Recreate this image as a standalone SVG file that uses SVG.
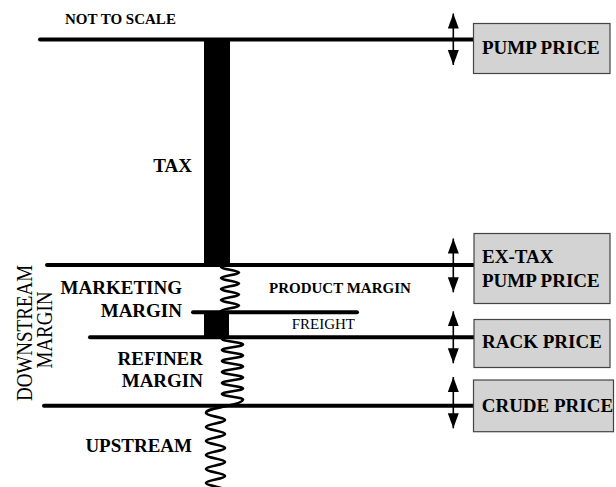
<svg xmlns="http://www.w3.org/2000/svg" width="616" height="487" viewBox="0 0 616 487">
<style>
text{font-family:"Liberation Serif","Times New Roman",serif;fill:#000}
.b{font-weight:bold;font-size:19px}
.r{font-weight:normal;font-size:19px}
.s{font-size:15px}
.box{fill:#d3d3d3;stroke:#444;stroke-width:1.2}
.lvl{stroke:#000;stroke-width:4;stroke-linecap:round;fill:none}
.arr{stroke:#000;stroke-width:1.6;marker-start:url(#ah);marker-end:url(#ah)}
.spr{stroke:#000;stroke-width:2.7;fill:none}
</style>
<defs>
<marker id="ah" markerUnits="userSpaceOnUse" markerWidth="16" markerHeight="12" refX="15" refY="5.5" orient="auto-start-reverse">
<path d="M0,0 L15,5.5 L0,11 z" fill="#000"/>
</marker>
</defs>
<rect width="616" height="487" fill="#fff"/>
<text class="b s" x="65" y="24">NOT TO SCALE</text>
<g id="connectors">
<line class="lvl" x1="40" y1="39.5" x2="474" y2="39.5"/>
<line class="lvl" x1="47" y1="265" x2="474" y2="265"/>
<line class="lvl" x1="193" y1="312.3" x2="357" y2="312.3"/>
<line class="lvl" x1="90" y1="337.3" x2="474" y2="337.3"/>
<line class="lvl" x1="44" y1="405.7" x2="474" y2="405.7"/>
<rect x="204" y="39" width="26" height="226" fill="#000"/>
<rect x="204" y="312" width="25" height="25" fill="#000"/>
<path class="spr" d="M221,267 C221,269.2 239,270.3 239,272.5 S221,275.8 221,278 S239,281.3 239,283.5 S221,286.8 221,289 S239,292.3 239,294.5 S221,297.8 221,300 S239,303.3 239,305.5 S221,308.8 221,311"/>
<path class="spr" d="M222,339 C222,341.2 243,342.3 243,344.5 S222,347.8 222,350 S243,353.3 243,355.5 S222,358.8 222,361 S243,364.3 243,366.5 S222,369.8 222,372 S243,375.3 243,377.5 S222,380.8 222,383 S243,386.3 243,388.5 S222,391.8 222,394 S243,397.3 243,399.5 C243,402 232,405 222,407 S206,410 206,413 S225,417.2 225,420 S206,424.2 206,427 S225,431.2 225,434 S206,438.2 206,441 S225,445.2 225,448 S206,452.2 206,455 S225,459.2 225,462 S206,466.2 206,469 S225,473.2 225,476 S206,480.2 206,483 S225,487.2 225,490"/>
<line class="arr" x1="453.3" y1="13.5" x2="453.3" y2="65"/>
<line class="arr" x1="453.3" y1="238.5" x2="453.3" y2="292.3"/>
<line class="arr" x1="453.3" y1="311.3" x2="453.3" y2="363.3"/>
<line class="arr" x1="453.3" y1="377" x2="453.3" y2="428.3"/>
</g>
<g id="pump-price"><rect class="box" x="473.5" y="23.5" width="136.5" height="50"/><text class="b" x="482" y="54">PUMP PRICE</text></g>
<g id="ex-tax-pump-price"><rect class="box" x="474" y="233.5" width="136" height="70"/><text class="b" x="482" y="263.3">EX-TAX</text><text class="b" x="482" y="286.7">PUMP PRICE</text></g>
<g id="rack-price"><rect class="box" x="474" y="319.5" width="136" height="48"/><text class="b" x="482" y="348.3">RACK PRICE</text></g>
<g id="crude-price"><rect class="box" x="473.5" y="380" width="140" height="51.7"/><text class="b" x="481.7" y="411.7">CRUDE PRICE</text></g>
<g id="tax"><text class="b" x="192" y="172" text-anchor="end">TAX</text></g>
<g id="marketing-margin"><text class="b" x="182" y="294" text-anchor="end">MARKETING</text><text class="b" x="182" y="317.3" text-anchor="end">MARGIN</text></g>
<g id="product-margin"><text class="b s" x="269" y="293.3">PRODUCT MARGIN</text></g>
<g id="freight"><text class="r s" x="291.7" y="329">FREIGHT</text></g>
<g id="refiner-margin"><text class="b" x="203" y="365" text-anchor="end">REFINER</text><text class="b" x="203" y="387.3" text-anchor="end">MARGIN</text></g>
<g id="upstream"><text class="b" x="192" y="452.3" text-anchor="end">UPSTREAM</text></g>
<g id="downstream-margin">
<text class="r" transform="translate(31.7,333) rotate(-90) scale(1,1.25)" text-anchor="middle">DOWNSTREAM</text>
<text class="r" transform="translate(52.3,330) rotate(-90) scale(1,1.2)" text-anchor="middle">MARGIN</text>
</g>
</svg>
